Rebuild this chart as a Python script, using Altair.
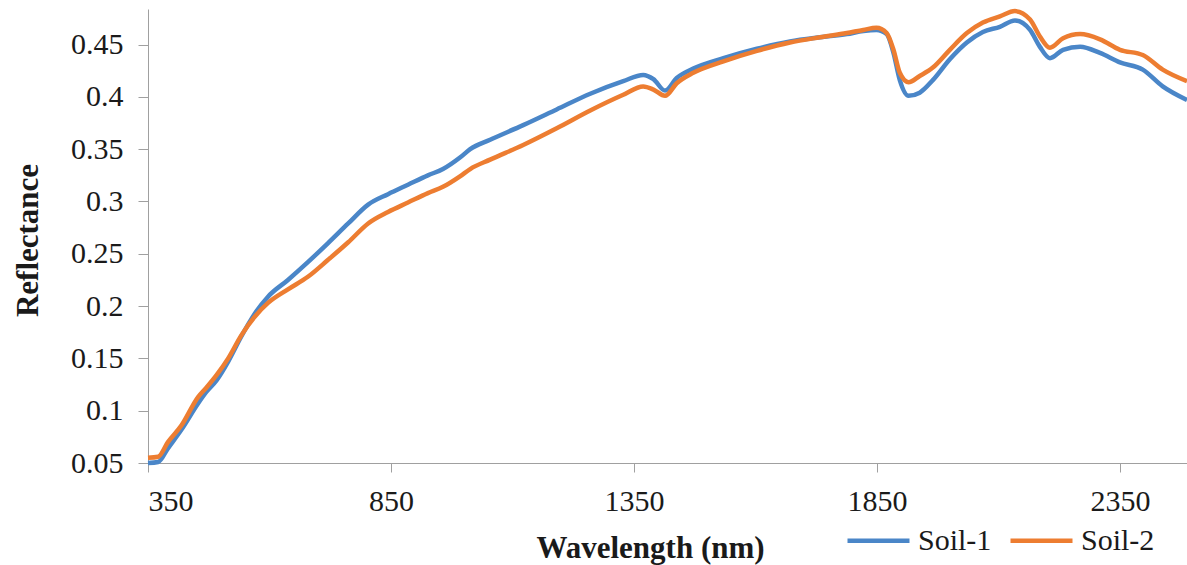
import altair as alt
import pandas as pd

wavelength = [350, 371, 391, 419, 453, 470, 491, 515, 542, 570, 597, 638, 679, 720, 762,
              803, 844, 885, 926, 957, 992, 1013, 1054, 1122, 1191, 1260, 1328, 1369, 1390,
              1414, 1438, 1472, 1534, 1603, 1671, 1733, 1788, 1822, 1849, 1870, 1884, 1897,
              1915, 1938, 1965, 2000, 2035, 2068, 2103, 2134, 2165, 2185, 2206, 2233, 2268,
              2309, 2350, 2397, 2438, 2488]

soil1 = [0.050, 0.051, 0.064, 0.082, 0.107, 0.118, 0.129, 0.147, 0.171, 0.193, 0.209, 0.225,
         0.242, 0.260, 0.279, 0.297, 0.307, 0.316, 0.325, 0.331, 0.342, 0.350, 0.359, 0.373,
         0.388, 0.403, 0.415, 0.421, 0.417, 0.406, 0.418, 0.427, 0.437, 0.446, 0.453, 0.457,
         0.460, 0.463, 0.464, 0.460, 0.442, 0.416, 0.401, 0.404, 0.416, 0.436, 0.452, 0.462,
         0.467, 0.473, 0.464, 0.448, 0.437, 0.445, 0.448, 0.442, 0.433, 0.426, 0.410, 0.397]

soil2 = [0.055, 0.056, 0.070, 0.086, 0.113, 0.122, 0.134, 0.150, 0.172, 0.190, 0.203, 0.216,
         0.228, 0.244, 0.261, 0.279, 0.290, 0.299, 0.308, 0.314, 0.324, 0.331, 0.340, 0.354,
         0.370, 0.387, 0.402, 0.410, 0.407, 0.401, 0.413, 0.423, 0.434, 0.444, 0.452, 0.457,
         0.461, 0.464, 0.466, 0.461, 0.445, 0.423, 0.414, 0.420, 0.428, 0.445, 0.461, 0.471,
         0.477, 0.482, 0.474, 0.458, 0.447, 0.456, 0.460, 0.455, 0.445, 0.440, 0.426, 0.415]

series_names = ["Soil-1", "Soil-2"]
series_colors = ["#4A86C8", "#ED7D31"]
x_ticks = [350, 850, 1350, 1850, 2350]
y_ticks = [0.05, 0.1, 0.15, 0.2, 0.25, 0.3, 0.35, 0.4, 0.45]

rows = []
for name, vals in zip(series_names, [soil1, soil2]):
    for w, v in zip(wavelength, vals):
        rows.append({"Wavelength": w, "Reflectance": v, "Series": name})
df = pd.DataFrame(rows)

FONT = "Liberation Serif"
AXIS_GRAY = "#A0A0A0"
TEXT = "#1a1a1a"

chart = alt.Chart(df).mark_line(strokeWidth=4.5, interpolate="monotone").encode(
    x=alt.X("Wavelength:Q",
            scale=alt.Scale(domain=[350, 2488], nice=False, zero=False),
            axis=alt.Axis(values=x_ticks, format="d", title="Wavelength (nm)", grid=False,
                          domainColor=AXIS_GRAY, tickColor=AXIS_GRAY, tickSize=9,
                          labelFont=FONT, labelFontSize=30, labelColor=TEXT,
                          labelPadding=14,
                          titleFont=FONT, titleFontSize=31, titleFontWeight="bold",
                          titleColor=TEXT, titleX=502, titleY=94,
                          titleBaseline="alphabetic", titleAlign="center")),
    y=alt.Y("Reflectance:Q",
            scale=alt.Scale(domain=[0.05, 0.484], nice=False, zero=False),
            axis=alt.Axis(values=y_ticks, format=".2~f", title="Reflectance", grid=False,
                          domainColor=AXIS_GRAY, tickColor=AXIS_GRAY, tickSize=10,
                          labelFont=FONT, labelFontSize=30, labelColor=TEXT,
                          labelPadding=15,
                          titleFont=FONT, titleFontSize=31, titleFontWeight="bold",
                          titleColor=TEXT, titleX=-111, titleY=231,
                          titleBaseline="alphabetic", titleAlign="center", titleAngle=270)),
    color=alt.Color("Series:N",
                    scale=alt.Scale(domain=series_names, range=series_colors),
                    legend=alt.Legend(title=None, orient="none", direction="horizontal",
                                      legendX=697, legendY=498,
                                      symbolType="stroke", symbolSize=3844,
                                      symbolStrokeWidth=4.5,
                                      labelFont=FONT, labelFontSize=30, labelColor=TEXT,
                                      labelOffset=6, columnPadding=9, padding=0)),
).properties(
    width=1039,
    height=454,
    autosize=alt.AutoSizeParams(type="none"),
    padding={"left": 148, "top": 9, "right": 0, "bottom": 102},
).configure(
    background="white", font=FONT
).configure_axis(
    labelFont=FONT, titleFont=FONT
).configure_legend(
    labelFont=FONT
).configure_view(stroke=None)

chart.save("out.html", embed_options={"renderer": "svg", "actions": False})
